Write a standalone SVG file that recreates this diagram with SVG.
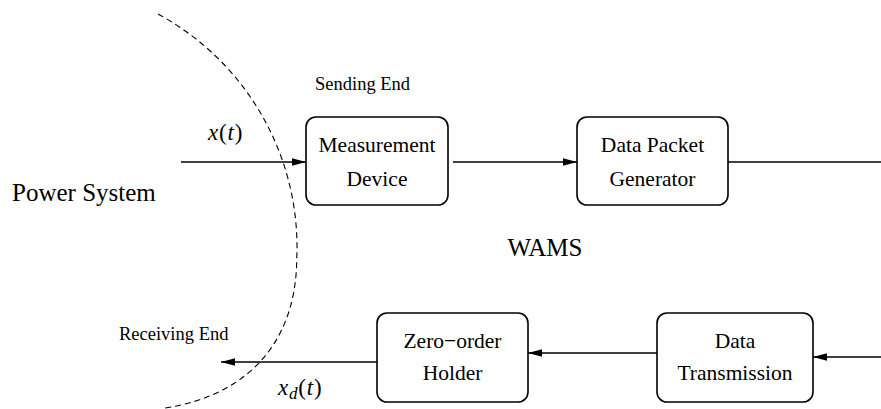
<svg xmlns="http://www.w3.org/2000/svg" width="881" height="409" viewBox="0 0 881 409">
  <style>
    .box { fill: #ffffff; stroke: #000000; stroke-width: 1.6; }
    .wire { fill: none; stroke: #000000; stroke-width: 1.6; }
    .border { fill: none; stroke: #000000; stroke-width: 1.1; stroke-dasharray: 6 4; }
    .lbl { font-family: "Liberation Serif", "Times New Roman", serif; fill: #000000; }
    .node { font-size: 21.5px; text-anchor: middle; }
    .small { font-size: 18.5px; }
    .big { font-size: 25px; }
    .math { font-family: "Liberation Serif", "Times New Roman", serif; font-size: 23px; letter-spacing: 0.8px; fill: #000000; }
  </style>
  <defs>
    <marker id="arrow" markerUnits="userSpaceOnUse" markerWidth="14" markerHeight="9" refX="14" refY="4.5" orient="auto">
      <path d="M0,0.7 L14,4.5 L0,8.3 z" fill="#000000"/>
    </marker>
  </defs>
  <rect width="881" height="409" fill="#ffffff"/>

  <!-- dashed boundary of the power system: circular upper part, tighter lower bend -->
  <path class="border" d="M158,14 A265,265 0 0 1 296.7,260 C296,340 250,395 165,408"/>

  <!-- free labels -->
  <text class="lbl big" x="12" y="201">Power System</text>
  <text class="lbl small" x="315" y="90">Sending End</text>
  <text class="lbl small" x="119" y="340">Receiving End</text>
  <text class="lbl big" x="545" y="256" text-anchor="middle">WAMS</text>
  <text class="math" x="208" y="140"><tspan font-style="italic">x</tspan>(<tspan font-style="italic">t</tspan>)</text>
  <text class="math" x="278" y="395"><tspan font-style="italic">x</tspan><tspan font-style="italic" font-size="17" dy="4">d</tspan><tspan dy="-4">(</tspan><tspan font-style="italic">t</tspan>)</text>

  <!-- connectors -->
  <g id="connectors">
    <line class="wire" x1="181" y1="162" x2="306" y2="162" marker-end="url(#arrow)"/>
    <line class="wire" x1="453" y1="162" x2="577" y2="162" marker-end="url(#arrow)"/>
    <line class="wire" x1="728" y1="162" x2="881" y2="162"/>
    <line class="wire" x1="881" y1="357" x2="813" y2="357" marker-end="url(#arrow)"/>
    <line class="wire" x1="657" y1="353" x2="528" y2="353" marker-end="url(#arrow)"/>
    <line class="wire" x1="377" y1="362" x2="221" y2="362" marker-end="url(#arrow)"/>
  </g>

  <g id="measurement-device">
    <rect class="box" x="306" y="117" width="142" height="88" rx="10"/>
    <text class="lbl node" x="377" y="152">Measurement</text>
    <text class="lbl node" x="377" y="186">Device</text>
  </g>

  <g id="data-packet-generator">
    <rect class="box" x="577" y="117" width="151" height="88" rx="10"/>
    <text class="lbl node" x="652.5" y="152">Data Packet</text>
    <text class="lbl node" x="652.5" y="186">Generator</text>
  </g>

  <g id="zero-order-holder">
    <rect class="box" x="377" y="313" width="151" height="89" rx="10"/>
    <text class="lbl node" x="452.5" y="348">Zero−order</text>
    <text class="lbl node" x="452.5" y="380">Holder</text>
  </g>

  <g id="data-transmission">
    <rect class="box" x="657" y="313" width="156" height="89" rx="10"/>
    <text class="lbl node" x="735" y="348">Data</text>
    <text class="lbl node" x="735" y="380">Transmission</text>
  </g>
</svg>
